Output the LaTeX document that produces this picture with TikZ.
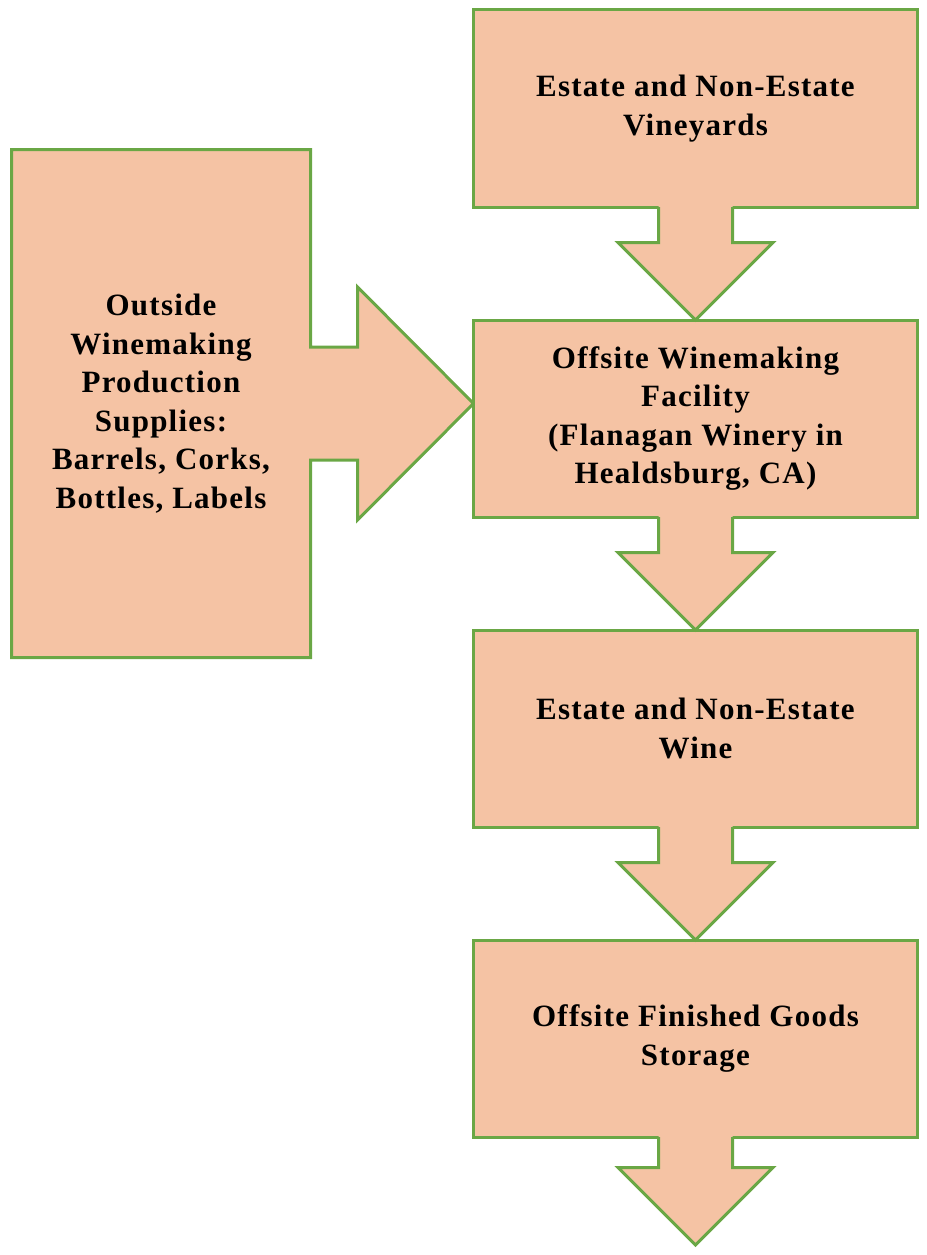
\documentclass[tikz,border=0pt]{standalone}
\usepackage{fontspec}
\usetikzlibrary{positioning,calc,backgrounds}
\newfontfamily\boxfont[LetterSpace=4]{Liberation Serif}
\newcommand{\boxtext}{\boxfont\bfseries\fontsize{31}{38.5}\selectfont}
\definecolor{peach}{HTML}{F5C3A4}
\definecolor{leaf}{HTML}{6AA745}

\begin{document}
\begin{tikzpicture}[x=1pt,y=-1pt,node distance=113pt,
	stage/.style={rectangle, fill=peach, draw=leaf, line width=3pt, minimum width=444pt, minimum height=197pt, inner sep=0pt, outer sep=0pt, align=center, font=\boxtext,
		execute at begin node={\rule{0pt}{33pt}}},
	block/.style={fill=peach, draw=leaf, line width=3pt}]
				\useasboundingbox (0,0) rectangle (926,1255);

				\node[stage]         (V) at (695.5,108.5)  {Estate and Non-Estate\\Vineyards};
				\node[stage]         (F) [below=of V]       {Offsite Winemaking\\Facility\\(Flanagan Winery in\\Healdsburg, CA)};
				\node[stage]         (W) [below=of F]       {Estate and Non-Estate\\Wine};
				\node[stage]         (G) [below=of W]       {Offsite Finished Goods\\Storage};
				\node[stage, fill=none, draw=none, minimum width=299pt, minimum height=508pt]
				                     (S) at (161,403.5)     {Outside\\Winemaking\\Production\\Supplies:\\Barrels, Corks,\\Bottles, Labels};

				\coordinate (end) at ($(G.south)+(0,108)$);
				\coordinate (T) at (F.west |- S.east);

				% supplies box and its arrow as one shape
				\begin{pgfonlayer}{background}
				\filldraw[block] (S.north west) -- (S.north east) -- ($(S.east)+(0,-56.5)$)
						-- ($(T)+(-116,-56.5)$) -- ($(T)+(-116,-116.5)$) -- (T)
						-- ($(T)+(-116,116.5)$) -- ($(T)+(-116,56.5)$) -- ($(S.east)+(0,56.5)$)
						-- (S.south east) -- (S.south west) -- cycle;
				\end{pgfonlayer}

				% down arrows
				\foreach \a/\b in {V/F.north, F/W.north, W/G.north, G/end} {
					\fill[peach] ($(\a.south)+(-37,-2)$) -- ($(\b)+(-37,-77.5)$) -- ($(\b)+(-77.5,-77.5)$) -- (\b)
						-- ($(\b)+(77.5,-77.5)$) -- ($(\b)+(37,-77.5)$) -- ($(\a.south)+(37,-2)$) -- cycle;
					\draw[leaf, line width=3pt] ($(\a.south)+(-37,0)$) -- ($(\b)+(-37,-77.5)$) -- ($(\b)+(-77.5,-77.5)$) -- (\b)
						-- ($(\b)+(77.5,-77.5)$) -- ($(\b)+(37,-77.5)$) -- ($(\a.south)+(37,0)$);
				}

			\end{tikzpicture}
\end{document}
